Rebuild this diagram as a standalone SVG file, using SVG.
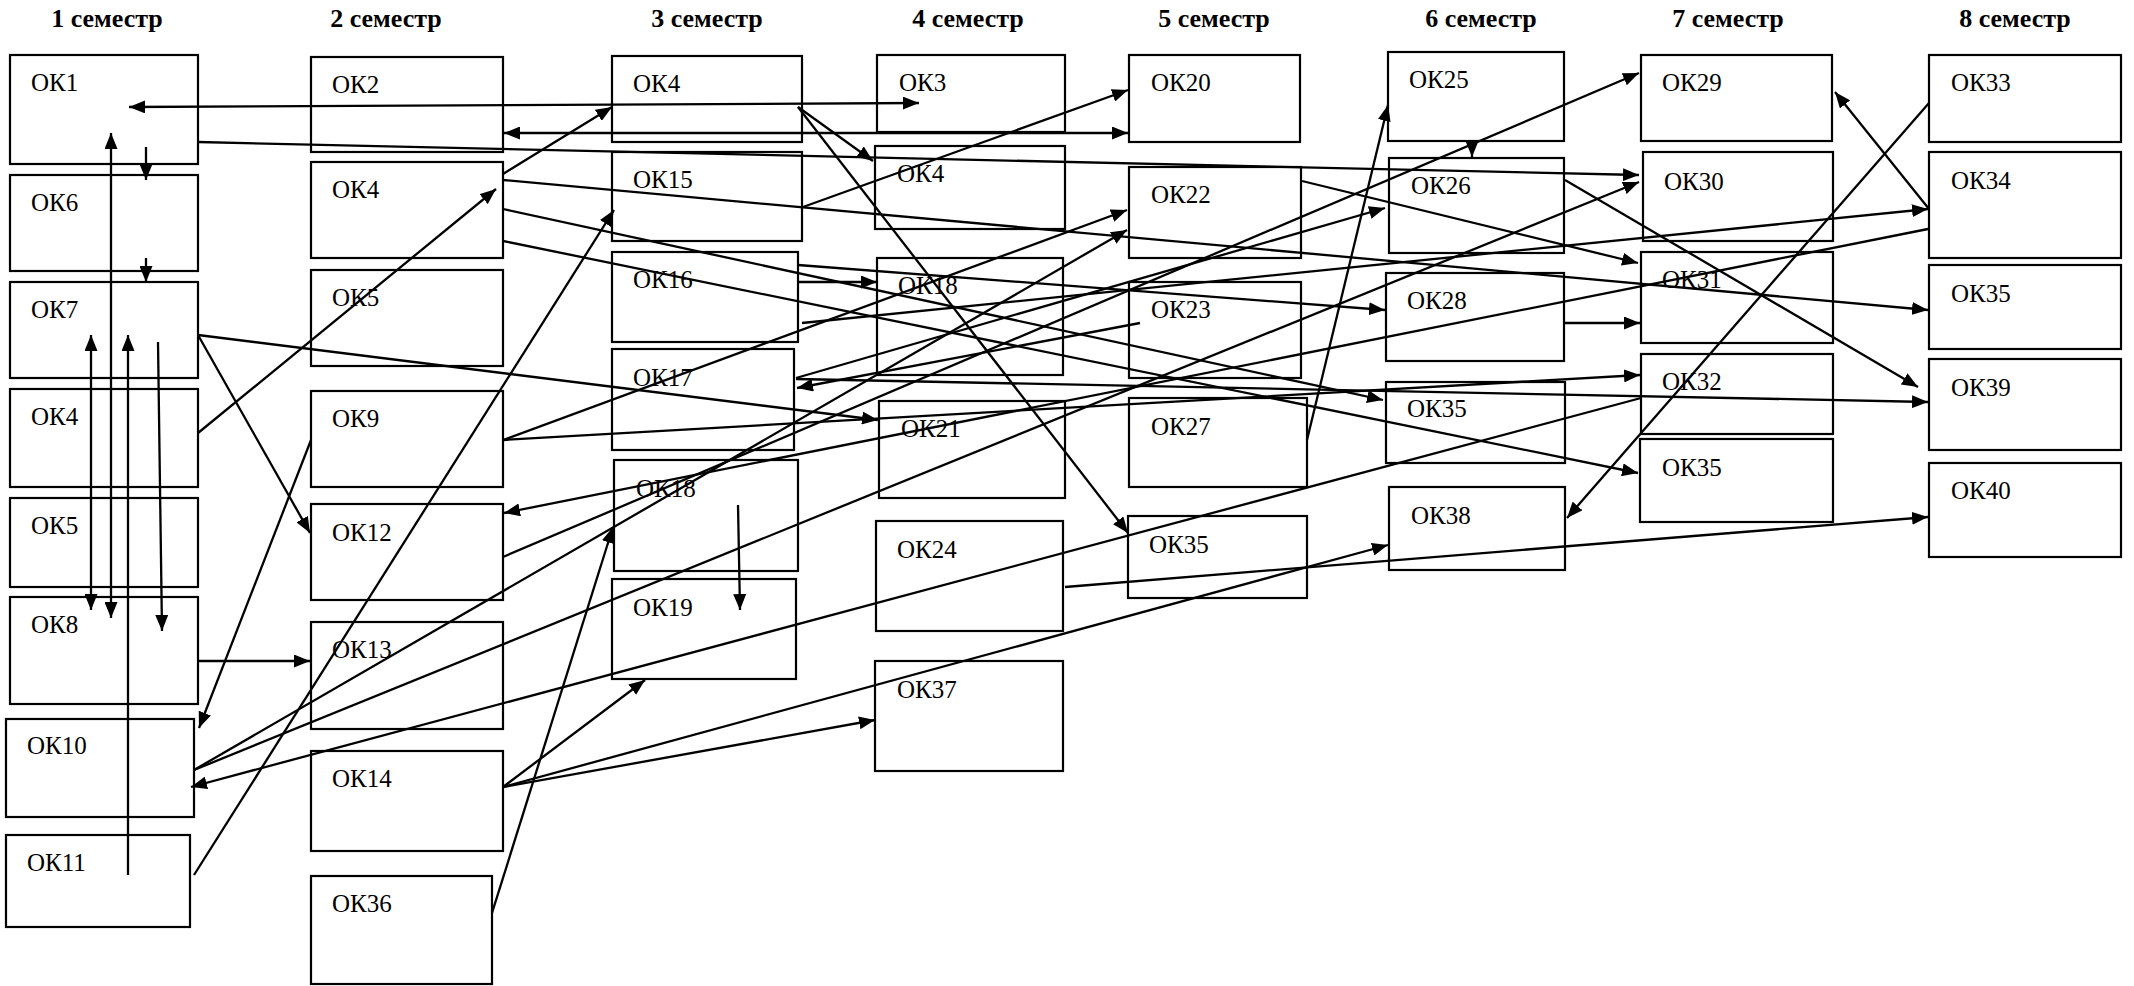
<svg xmlns="http://www.w3.org/2000/svg" width="2134" height="986" viewBox="0 0 2134 986">
<style>
.box{fill:#fff;stroke:#000;stroke-width:2.2}
.lbl{font-family:"Liberation Serif","Times New Roman",serif;font-size:25px;fill:#000}
.hdr{font-family:"Liberation Serif","Times New Roman",serif;font-size:26px;font-weight:bold;fill:#000;text-anchor:middle}
#connectors line{stroke:#000;stroke-width:2.3;fill:none}
#connectors .a{marker-end:url(#ah)}
#connectors .d{marker-start:url(#ah);marker-end:url(#ah)}
</style>
<defs>
<marker id="ah" markerUnits="userSpaceOnUse" markerWidth="16" markerHeight="13" refX="16" refY="6.5" orient="auto-start-reverse"><path d="M0,0L16,6.5L0,13z" fill="#000"/></marker>
</defs>
<rect width="2134" height="986" fill="#fff"/>
<g id="headers">
<text class="hdr" x="107" y="27">1 семестр</text>
<text class="hdr" x="386" y="27">2 семестр</text>
<text class="hdr" x="707" y="27">3 семестр</text>
<text class="hdr" x="968" y="27">4 семестр</text>
<text class="hdr" x="1214" y="27">5 семестр</text>
<text class="hdr" x="1481" y="27">6 семестр</text>
<text class="hdr" x="1728" y="27">7 семестр</text>
<text class="hdr" x="2015" y="27">8 семестр</text>
</g>
<g id="ok1-s1"><rect class="box" x="10" y="55" width="188" height="109"/><text class="lbl" x="31" y="91">ОК1</text></g>
<g id="ok6-s1"><rect class="box" x="10" y="175" width="188" height="96"/><text class="lbl" x="31" y="211">ОК6</text></g>
<g id="ok7-s1"><rect class="box" x="10" y="282" width="188" height="96"/><text class="lbl" x="31" y="318">ОК7</text></g>
<g id="ok4-s1"><rect class="box" x="10" y="389" width="188" height="98"/><text class="lbl" x="31" y="425">ОК4</text></g>
<g id="ok5-s1"><rect class="box" x="10" y="498" width="188" height="89"/><text class="lbl" x="31" y="534">ОК5</text></g>
<g id="ok8-s1"><rect class="box" x="10" y="597" width="188" height="107"/><text class="lbl" x="31" y="633">ОК8</text></g>
<g id="ok10-s1"><rect class="box" x="6" y="719" width="188" height="98"/><text class="lbl" x="27" y="754">ОК10</text></g>
<g id="ok11-s1"><rect class="box" x="6" y="835" width="184" height="92"/><text class="lbl" x="27" y="871">ОК11</text></g>

<g id="ok2-s2"><rect class="box" x="311" y="57" width="192" height="95"/><text class="lbl" x="332" y="93">ОК2</text></g>
<g id="ok4-s2"><rect class="box" x="311" y="162" width="192" height="96"/><text class="lbl" x="332" y="198">ОК4</text></g>
<g id="ok5-s2"><rect class="box" x="311" y="270" width="192" height="96"/><text class="lbl" x="332" y="306">ОК5</text></g>
<g id="ok9-s2"><rect class="box" x="311" y="391" width="192" height="96"/><text class="lbl" x="332" y="427">ОК9</text></g>
<g id="ok12-s2"><rect class="box" x="311" y="504" width="192" height="96"/><text class="lbl" x="332" y="541">ОК12</text></g>
<g id="ok13-s2"><rect class="box" x="311" y="622" width="192" height="107"/><text class="lbl" x="332" y="658">ОК13</text></g>
<g id="ok14-s2"><rect class="box" x="311" y="751" width="192" height="100"/><text class="lbl" x="332" y="787">ОК14</text></g>
<g id="ok36-s2"><rect class="box" x="311" y="876" width="181" height="108"/><text class="lbl" x="332" y="912">ОК36</text></g>

<g id="ok4-s3"><rect class="box" x="612" y="56" width="190" height="86"/><text class="lbl" x="633" y="92">ОК4</text></g>
<g id="ok15-s3"><rect class="box" x="612" y="152" width="190" height="89"/><text class="lbl" x="633" y="188">ОК15</text></g>
<g id="ok16-s3"><rect class="box" x="612" y="252" width="186" height="90"/><text class="lbl" x="633" y="288">ОК16</text></g>
<g id="ok17-s3"><rect class="box" x="612" y="349" width="182" height="101"/><text class="lbl" x="633" y="386">ОК17</text></g>
<g id="ok18-s3"><rect class="box" x="614" y="460" width="184" height="111"/><text class="lbl" x="636" y="497">ОК18</text></g>
<g id="ok19-s3"><rect class="box" x="612" y="579" width="184" height="100"/><text class="lbl" x="633" y="616">ОК19</text></g>

<g id="ok3-s4"><rect class="box" x="877" y="55" width="188" height="77"/><text class="lbl" x="899" y="91">ОК3</text></g>
<g id="ok4-s4"><rect class="box" x="875" y="146" width="190" height="83"/><text class="lbl" x="897" y="182">ОК4</text></g>
<g id="ok18-s4"><rect class="box" x="877" y="258" width="186" height="117"/><text class="lbl" x="898" y="294">ОК18</text></g>
<g id="ok21-s4"><rect class="box" x="879" y="401" width="186" height="97"/><text class="lbl" x="901" y="437">ОК21</text></g>
<g id="ok24-s4"><rect class="box" x="876" y="521" width="187" height="110"/><text class="lbl" x="897" y="558">ОК24</text></g>
<g id="ok37-s4"><rect class="box" x="875" y="661" width="188" height="110"/><text class="lbl" x="897" y="698">ОК37</text></g>

<g id="ok20-s5"><rect class="box" x="1129" y="55" width="171" height="87"/><text class="lbl" x="1151" y="91">ОК20</text></g>
<g id="ok22-s5"><rect class="box" x="1129" y="167" width="172" height="91"/><text class="lbl" x="1151" y="203">ОК22</text></g>
<g id="ok23-s5"><rect class="box" x="1129" y="282" width="172" height="96"/><text class="lbl" x="1151" y="318">ОК23</text></g>
<g id="ok27-s5"><rect class="box" x="1129" y="398" width="178" height="89"/><text class="lbl" x="1151" y="435">ОК27</text></g>
<g id="ok35-s5"><rect class="box" x="1128" y="516" width="179" height="82"/><text class="lbl" x="1149" y="553">ОК35</text></g>

<g id="ok25-s6"><rect class="box" x="1388" y="52" width="176" height="89"/><text class="lbl" x="1409" y="88">ОК25</text></g>
<g id="ok26-s6"><rect class="box" x="1389" y="158" width="175" height="95"/><text class="lbl" x="1411" y="194">ОК26</text></g>
<g id="ok28-s6"><rect class="box" x="1386" y="273" width="178" height="88"/><text class="lbl" x="1407" y="309">ОК28</text></g>
<g id="ok35-s6"><rect class="box" x="1386" y="382" width="179" height="81"/><text class="lbl" x="1407" y="417">ОК35</text></g>
<g id="ok38-s6"><rect class="box" x="1389" y="487" width="176" height="83"/><text class="lbl" x="1411" y="524">ОК38</text></g>

<g id="ok29-s7"><rect class="box" x="1641" y="55" width="191" height="86"/><text class="lbl" x="1662" y="91">ОК29</text></g>
<g id="ok30-s7"><rect class="box" x="1643" y="152" width="190" height="89"/><text class="lbl" x="1664" y="190">ОК30</text></g>
<g id="ok31-s7"><rect class="box" x="1641" y="252" width="192" height="91"/><text class="lbl" x="1662" y="288">ОК31</text></g>
<g id="ok32-s7"><rect class="box" x="1641" y="354" width="192" height="80"/><text class="lbl" x="1662" y="390">ОК32</text></g>
<g id="ok35-s7"><rect class="box" x="1640" y="439" width="193" height="83"/><text class="lbl" x="1662" y="476">ОК35</text></g>

<g id="ok33-s8"><rect class="box" x="1929" y="55" width="192" height="87"/><text class="lbl" x="1951" y="91">ОК33</text></g>
<g id="ok34-s8"><rect class="box" x="1929" y="152" width="192" height="106"/><text class="lbl" x="1951" y="189">ОК34</text></g>
<g id="ok35-s8"><rect class="box" x="1929" y="265" width="192" height="84"/><text class="lbl" x="1951" y="302">ОК35</text></g>
<g id="ok39-s8"><rect class="box" x="1929" y="359" width="192" height="91"/><text class="lbl" x="1951" y="396">ОК39</text></g>
<g id="ok40-s8"><rect class="box" x="1929" y="463" width="192" height="94"/><text class="lbl" x="1951" y="499">ОК40</text></g>

<g id="connectors">
<line class="d" x1="129" y1="107" x2="919" y2="103"/>
<line class="d" x1="504" y1="133" x2="1128" y2="133"/>
<line class="a" x1="198" y1="142" x2="1639" y2="175"/>
<line class="a" x1="146" y1="147" x2="146" y2="180"/>
<line class="a" x1="146" y1="258" x2="146" y2="282"/>
<line class="d" x1="91" y1="335" x2="91" y2="610"/>
<line class="d" x1="111" y1="133" x2="111" y2="618"/>
<line class="a" x1="128" y1="875" x2="128" y2="335"/>
<line class="a" x1="158" y1="342" x2="162" y2="631"/>
<line class="a" x1="198" y1="335" x2="878" y2="420"/>
<line class="a" x1="198" y1="335" x2="310" y2="533"/>
<line class="a" x1="198" y1="433" x2="496" y2="189"/>
<line class="a" x1="503" y1="174" x2="612" y2="107"/>
<line class="a" x1="503" y1="180" x2="1928" y2="310"/>
<line class="a" x1="503" y1="209" x2="1383" y2="400"/>
<line class="a" x1="503" y1="241" x2="1638" y2="473"/>
<line class="a" x1="311" y1="440" x2="199" y2="728"/>
<line class="a" x1="503" y1="440" x2="1127" y2="210"/>
<line class="a" x1="503" y1="440" x2="1640" y2="375"/>
<line class="a" x1="198" y1="661" x2="310" y2="661"/>
<line class="a" x1="194" y1="875" x2="614" y2="210"/>
<line class="a" x1="1928" y1="229" x2="504" y2="513"/>
<line class="a" x1="503" y1="557" x2="1639" y2="73"/>
<line class="a" x1="194" y1="770" x2="1127" y2="230"/>
<line class="a" x1="194" y1="770" x2="1639" y2="182"/>
<line class="a" x1="1641" y1="398" x2="191" y2="787"/>
<line class="a" x1="503" y1="787" x2="645" y2="680"/>
<line class="a" x1="503" y1="787" x2="875" y2="720"/>
<line class="a" x1="503" y1="787" x2="1388" y2="545"/>
<line class="a" x1="492" y1="913" x2="613" y2="527"/>
<line class="a" x1="738" y1="505" x2="740" y2="610"/>
<line class="a" x1="1065" y1="587" x2="1928" y2="517"/>
<line class="a" x1="798" y1="107" x2="873" y2="161"/>
<line class="a" x1="798" y1="107" x2="1128" y2="533"/>
<line class="a" x1="803" y1="207" x2="1128" y2="90"/>
<line class="a" x1="798" y1="265" x2="1385" y2="310"/>
<line class="a" x1="797" y1="282" x2="877" y2="282"/>
<line class="a" x1="802" y1="323" x2="1928" y2="209"/>
<line class="a" x1="796" y1="378" x2="1385" y2="208"/>
<line class="a" x1="796" y1="379" x2="1928" y2="402"/>
<line class="a" x1="1140" y1="323" x2="797" y2="388"/>
<line class="a" x1="1302" y1="181" x2="1638" y2="263"/>
<line class="a" x1="1565" y1="180" x2="1918" y2="387"/>
<line class="a" x1="1565" y1="323" x2="1640" y2="323"/>
<line class="a" x1="1307" y1="440" x2="1388" y2="105"/>
<line class="a" x1="1929" y1="103" x2="1567" y2="518"/>
<line class="a" x1="1929" y1="209" x2="1835" y2="92"/>
<line class="a" x1="1472" y1="141" x2="1472" y2="157"/>
</g>
</svg>
